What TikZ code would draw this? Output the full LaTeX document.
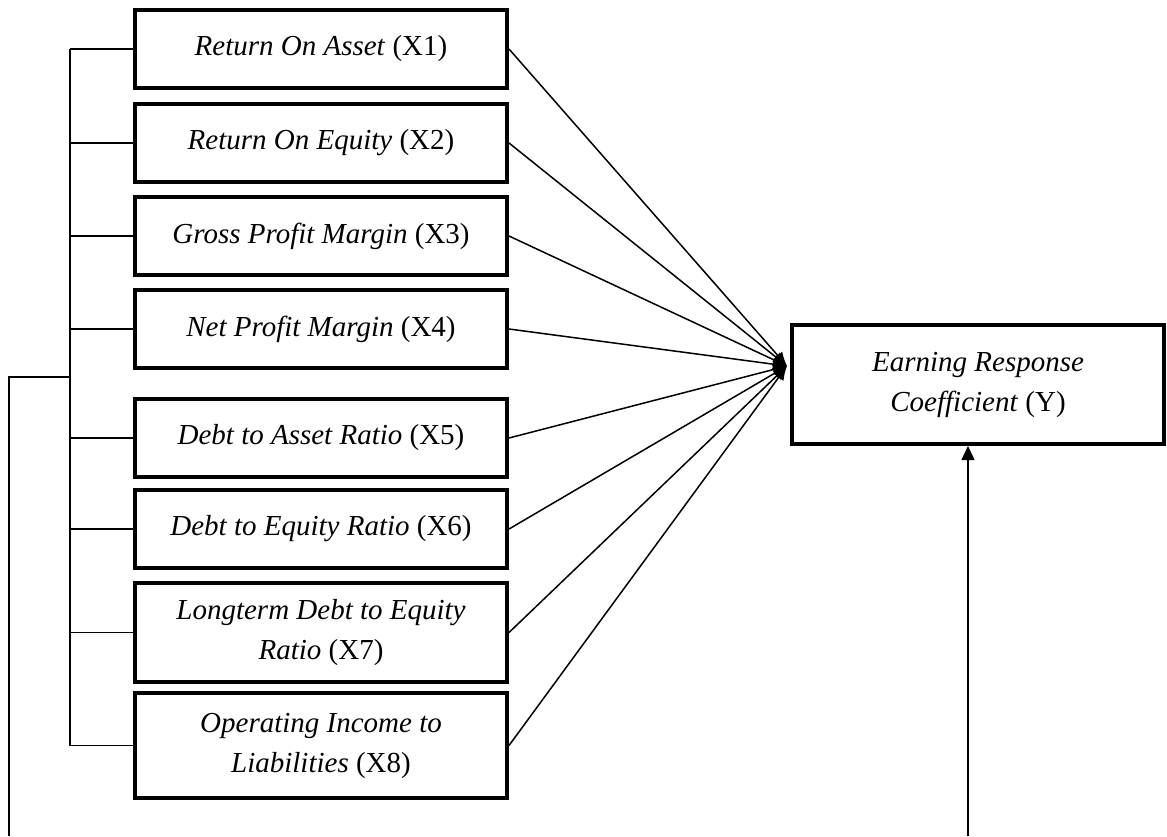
\documentclass[tikz,border=0pt]{standalone}
\usepackage{fontspec}
\setmainfont{Liberation Serif}
\usetikzlibrary{arrows.meta}
\begin{document}
\begin{tikzpicture}[x=1pt,y=-1pt,
  box/.style={draw, line width=4pt, align=center, inner sep=0pt, minimum width=372pt,
    font=\fontsize{29}{40}\selectfont},
  conn/.style={line width=1.5pt},
  toy/.style={conn, -{Latex[length=14pt,width=12pt]}},
  up/.style={conn, -{Triangle[length=14pt,width=13pt]}}]
\useasboundingbox (0,0) rectangle (1167,836);
\node[box, minimum height=78pt] (x1) at (321,49) {\textit{Return On Asset} (X1)};
\node[box, minimum height=78pt] (x2) at (321,143) {\textit{Return On Equity} (X2)};
\node[box, minimum height=78pt] (x3) at (321,236) {\textit{Gross Profit Margin} (X3)};
\node[box, minimum height=78pt] (x4) at (321,329) {\textit{Net Profit Margin} (X4)};
\node[box, minimum height=78pt] (x5) at (321,438) {\textit{Debt to Asset Ratio} (X5)};
\node[box, minimum height=78pt] (x6) at (321,529) {\textit{Debt to Equity Ratio} (X6)};
\node[box, minimum height=99pt] (x7) at (321,632.5) {\textit{Longterm Debt to Equity}\\\textit{Ratio} (X7)};
\node[box, minimum height=105pt] (x8) at (321,745.5) {\textit{Operating Income to}\\\textit{Liabilities} (X8)};
\node[box, minimum height=119pt] (y) at (978,384.5) {\textit{Earning Response}\\\textit{Coefficient} (Y)};
\coordinate (conv) at (787,366);
\coordinate (br) at (70,0);
\coordinate (brm) at (70,377);
\coordinate (lm) at (9,377);
\coordinate (lb) at (9,836);
\coordinate (rb) at (968,836);
\foreach \i in {1,...,8} {
  \draw[toy] (x\i.east) -- (conv);
  \draw[conn] (x\i.west) -- (x\i.west -| br);
}
\draw[conn] (x1.west -| br) -- (x8.west -| br);
\draw[conn] (brm) -- (lm) -- (lb);
\draw[up] (rb) -- (rb |- y.south);
\end{tikzpicture}
\end{document}
